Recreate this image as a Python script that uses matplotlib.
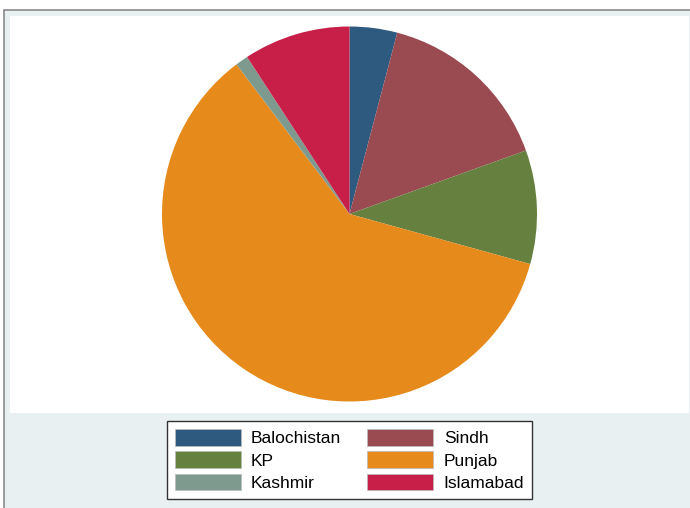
import matplotlib.pyplot as plt
from matplotlib.patches import Rectangle, Patch

plt.rcParams['font.family'] = ['Liberation Sans', 'DejaVu Sans']

regions = ['Balochistan', 'Sindh', 'KP', 'Punjab', 'Kashmir', 'Islamabad']
shares = [4.1, 15.4, 9.8, 60.4, 1.1, 9.2]
colors = ['#2e5a80', '#9a4a51', '#65803f', '#e68a1b', '#7e9a8f', '#c71f47']

W, H = 690, 508
fig = plt.figure(figsize=(W / 100, H / 100), dpi=100)
fig.patch.set_facecolor('white')

# outer graph region (Stata style) and white plot region
fig.patches.append(Rectangle((4 / W, -0.1), 1.2, 1.1 - 10 / H, transform=fig.transFigure,
                             facecolor='#e8f0f2', edgecolor='#8a8a8a', linewidth=1.2, zorder=0))
fig.patches.append(Rectangle((10 / W, 1 - 413 / H), 679 / W, (413 - 16) / H,
                             transform=fig.transFigure, facecolor='white',
                             edgecolor='none', zorder=0.5))

cx, cy, r = 349.5, 214, 187.5
ax = fig.add_axes([(cx - r) / W, 1 - (cy + r) / H, 2 * r / W, 2 * r / H])
ax.set_zorder(2)
ax.pie(shares, colors=colors, startangle=90, counterclock=False, radius=1,
       wedgeprops=dict(linewidth=0))
ax.set_xlim(-1, 1)
ax.set_ylim(-1, 1)
ax.set_aspect('equal')
ax.axis('off')

order = [0, 2, 4, 1, 3, 5]
handles = [Patch(facecolor=colors[i], edgecolor='#bbbbbb', linewidth=0.5) for i in order]
labels = [regions[i] for i in order]
leg = fig.legend(handles, labels, ncol=2, loc='center',
                 bbox_to_anchor=(349.5 / W, 1 - 460 / H), fontsize=12.5,
                 handlelength=3.8, handleheight=1.1, handletextpad=0.6,
                 columnspacing=1.5, labelspacing=0.3, borderpad=0.45,
                 fancybox=False, framealpha=1, edgecolor='#333333')
leg.get_frame().set_linewidth(1)
leg.set_zorder(3)

fig.savefig('out.png', dpi=100)
